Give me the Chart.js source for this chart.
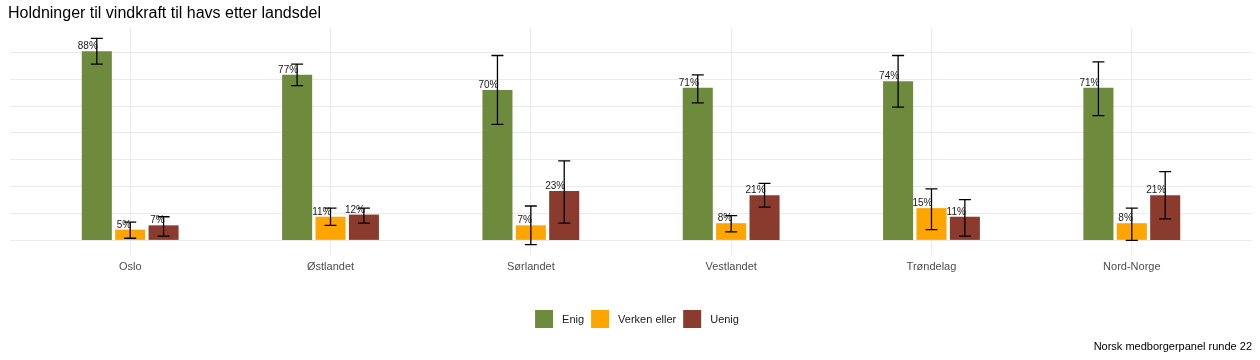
<!DOCTYPE html>
<html>
<head>
<meta charset="utf-8">
<script src="https://cdn.jsdelivr.net/npm/chart.js@4.4.1/dist/chart.umd.min.js"></script>
<style>
  html, body { margin: 0; padding: 0; background: #fff; }
  #wrap { width: 1260px; height: 360px; position: relative; }
</style>
</head>
<body>
<div id="wrap"><canvas id="chart"></canvas></div>
<script>
// data
const regions = ['Oslo', 'Østlandet', 'Sørlandet', 'Vestlandet', 'Trøndelag', 'Nord-Norge'];
const seriesNames = ['Enig', 'Verken eller', 'Uenig'];
const seriesColors = ['#6e8b3d', '#ffa500', '#8b3a2e'];

const enig = [88, 77, 70, 71, 74, 71];
const enigLow = [82, 72, 54, 64, 62, 58];
const enigHigh = [94, 82, 86, 77, 86, 83];

const verken = [5, 11, 7, 8, 15, 8];
const verkenLow = [1, 7, -2, 4, 5, 0];
const verkenHigh = [8.5, 15, 16, 11.5, 24, 15];

const uenig = [7, 12, 23, 21, 11, 21];
const uenigLow = [2, 8, 8, 15.5, 2, 10];
const uenigHigh = [11, 15, 37, 26.5, 19, 32];

// horizontal grid lines (no labels shown)
const yGrid = [0, 12.5, 25, 37.5, 50, 62.5, 75, 87.5];

const values = [enig, verken, uenig];
const lows = [enigLow, verkenLow, uenigLow];
const highs = [enigHigh, verkenHigh, uenigHigh];

const FONT = '"Liberation Sans", Arial, sans-serif';

const datasets = seriesNames.map((name, s) => ({
  label: name,
  data: values[s].map((v, i) => ({ x: i + 1, y: v })),
  backgroundColor: seriesColors[s],
  borderWidth: 0,
  categoryPercentage: 0.5,
  barPercentage: 0.9,
  lows: lows[s],
  highs: highs[s]
}));

// error bars + percent labels
const errorBars = {
  id: 'errorBars',
  afterDatasetsDraw(chart) {
    const ctx = chart.ctx;
    const y = chart.scales.y;
    ctx.save();
    chart.data.datasets.forEach((ds, s) => {
      const meta = chart.getDatasetMeta(s);
      meta.data.forEach((bar, i) => {
        const top = y.getPixelForValue(ds.data[i].y);
        ctx.fillStyle = '#1a1a1a';
        ctx.font = '10px ' + FONT;
        ctx.textAlign = 'right';
        ctx.textBaseline = 'alphabetic';
        ctx.fillText(ds.data[i].y + '%', bar.x + 1, top - 2);

        const lo = y.getPixelForValue(ds.lows[i]);
        const hi = y.getPixelForValue(ds.highs[i]);
        ctx.strokeStyle = '#000';
        ctx.lineWidth = 1.3;
        ctx.beginPath();
        ctx.moveTo(bar.x, lo); ctx.lineTo(bar.x, hi);
        ctx.moveTo(bar.x - 6, lo); ctx.lineTo(bar.x + 6, lo);
        ctx.moveTo(bar.x - 6, hi); ctx.lineTo(bar.x + 6, hi);
        ctx.stroke();
      });
    });
    ctx.restore();
  }
};

// title, legend, caption
const decorations = {
  id: 'decorations',
  afterDraw(chart) {
    const ctx = chart.ctx;
    ctx.save();
    ctx.fillStyle = '#000';
    ctx.font = '16px ' + FONT;
    ctx.textAlign = 'left';
    ctx.textBaseline = 'middle';
    ctx.fillText('Holdninger til vindkraft til havs etter landsdel', 8, 14);

    // legend
    ctx.font = '11px ' + FONT;
    const box = 18, gapText = 9, gapItem = 7;
    const widths = seriesNames.map(n => box + gapText + ctx.measureText(n).width);
    const total = widths.reduce((a, b) => a + b, 0) + gapItem * (seriesNames.length - 1);
    let x = 637 - total / 2;
    const ly = 310;
    seriesNames.forEach((n, s) => {
      ctx.fillStyle = seriesColors[s];
      ctx.fillRect(x, ly, box, box);
      ctx.fillStyle = '#1a1a1a';
      ctx.fillText(n, x + box + gapText, ly + box / 2 + 1);
      x += widths[s] + gapItem;
    });

    ctx.textAlign = 'right';
    ctx.fillStyle = '#000';
    ctx.fillText('Norsk medborgerpanel runde 22', 1252, 347);
    ctx.restore();
  }
};

new Chart(document.getElementById('chart'), {
  type: 'bar',
  data: { datasets },
  options: {
    responsive: true,
    maintainAspectRatio: false,
    animation: false,
    layout: { padding: { top: 28, left: 10, right: 8, bottom: 0 } },
    plugins: {
      legend: { display: false },
      tooltip: { enabled: false }
    },
    scales: {
      x: {
        type: 'linear',
        bounds: 'data',
        offset: false,
        min: 0.4,
        max: 6.6,
        border: { display: false },
        grid: { color: '#ebebeb', drawTicks: false, offset: false },
        ticks: {
          padding: 5,
          color: '#4d4d4d',
          font: { family: FONT, size: 11 },
          callback: (v) => regions[v - 1] || ''
        },
        afterBuildTicks(scale) {
          scale.ticks = regions.map((r, i) => ({ value: i + 1 }));
        },
        afterFit(scale) { scale.height = 105; }
      },
      y: {
        bounds: 'data',
        min: -6.8,
        max: 98.8,
        border: { display: false },
        grid: { color: '#ebebeb', drawTicks: false },
        ticks: { display: false },
        afterBuildTicks(scale) {
          scale.ticks = yGrid.map(v => ({ value: v }));
        }
      }
    }
  },
  plugins: [errorBars, decorations]
});
</script>
</body>
</html>
